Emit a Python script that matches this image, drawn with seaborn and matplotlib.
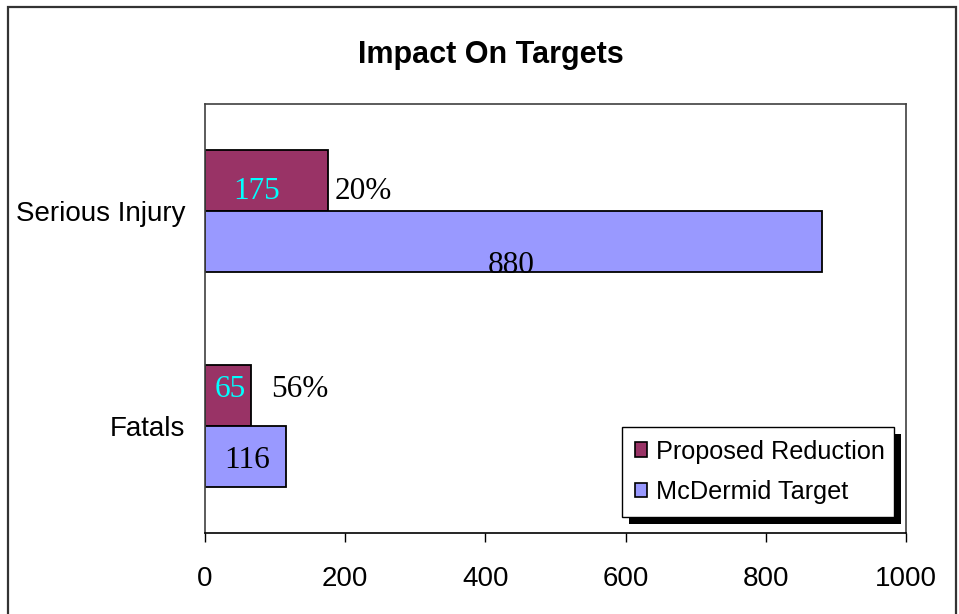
import pandas as pd
import seaborn as sns
import matplotlib.pyplot as plt
from matplotlib.patches import Rectangle
from matplotlib.transforms import IdentityTransform

# data
categories = ['Serious Injury', 'Fatals']
series = ['Proposed Reduction', 'McDermid Target']
reduction = [175, 65]
target = [880, 116]
pct_labels = ['20%', '56%']

colors = ['#993366', '#9999FF']

df = pd.DataFrame({
    'category': categories * 2,
    'series': [series[0]] * 2 + [series[1]] * 2,
    'value': reduction + target,
})

sns.set_style('white')
plt.rcParams['font.family'] = ['Liberation Sans', 'DejaVu Sans']
plt.rcParams['text.color'] = 'black'
plt.rcParams['xtick.color'] = 'black'
plt.rcParams['ytick.color'] = 'black'
plt.rcParams['xtick.labelcolor'] = 'black'
plt.rcParams['ytick.labelcolor'] = 'black'

fig = plt.figure(figsize=(9.59, 6.14), dpi=100)
W, H = 959, 614
ax = fig.add_axes([205 / W, 1 - 533 / H, (906 - 205) / W, (533 - 104) / H])

sns.barplot(data=df, x='value', y='category', hue='series', orient='h',
            order=categories, hue_order=series, palette=colors, saturation=1,
            width=0.57, edgecolor='black', linewidth=1.3, ax=ax)

ax.set_xlim(0, 1000)
ax.set_xticks(range(0, 1001, 200))
ax.set_xlabel('')
ax.set_ylabel('')
ax.tick_params(axis='x', direction='out', length=6.5, width=1, color='black',
               pad=17, labelsize=20, bottom=True, labelcolor='black')
ax.tick_params(axis='y', length=0, pad=14, labelsize=20, labelcolor='black')
for s in ax.spines.values():
    s.set_color('#404040')
    s.set_linewidth(1.2)
ax.spines['bottom'].set_color('black')

# value labels (offsets in points, Excel-like placement)
red_off = [(-7, -13), (1.5, -1.5)]
tgt_off = [(-1.5, -22.5), (0.7, -8.6)]
pct_off = [(5, -13), (15, -1.5)]
serif = ['Liberation Serif', 'DejaVu Serif']

for bar, val, off in zip(ax.containers[0], reduction, red_off):
    cx = bar.get_x() + bar.get_width() / 2
    cy = bar.get_y() + bar.get_height() / 2
    ax.annotate(str(val), (cx, cy), xytext=off, textcoords='offset points',
                ha='center', va='baseline', color='#00FFFF', fontsize=22.5, family=serif)
for bar, txt, off in zip(ax.containers[0], pct_labels, pct_off):
    ex = bar.get_x() + bar.get_width()
    cy = bar.get_y() + bar.get_height() / 2
    ax.annotate(txt, (ex, cy), xytext=off, textcoords='offset points',
                ha='left', va='baseline', color='black', fontsize=22.5, family=serif)
for bar, val, off in zip(ax.containers[1], target, tgt_off):
    cx = bar.get_x() + bar.get_width() / 2
    cy = bar.get_y() + bar.get_height() / 2
    ax.annotate(str(val), (cx, cy), xytext=off, textcoords='offset points',
                ha='center', va='baseline', color='black', fontsize=22.5, family=serif)

leg = ax.legend(loc='upper left',
                bbox_to_anchor=(622 / W, 1 - 517 / H, (894 - 622) / W, 90 / H),
                mode='expand',
                bbox_transform=fig.transFigure, borderaxespad=0, fontsize=18.2,
                frameon=True, fancybox=False, edgecolor='black', framealpha=1,
                handlelength=0.5, handleheight=0.5, handletextpad=0.35,
                borderpad=0.5, labelspacing=0.65)
leg.get_frame().set_linewidth(1)
for t in leg.get_texts():
    t.set_color('black')
for h in leg.legend_handles:
    h.set_edgecolor('black')
    h.set_linewidth(1.2)

fig.text(491 / W, 1 - 55 / H, 'Impact On Targets', ha='center', va='center',
         fontsize=22, fontweight='bold', color='black')

# outer chart border (bottom edge runs off the picture)
fig.patches.append(Rectangle((8 / W, -0.02), (956 - 8) / W, 1 - 7 / H + 0.02,
                             transform=fig.transFigure, fill=False,
                             edgecolor='#333333', linewidth=1.6))

# black drop shadow behind legend
fig.canvas.draw()
bb = leg.get_window_extent()
ax.add_patch(Rectangle((bb.x0 + 7, bb.y0 - 7), bb.width, bb.height,
                       transform=IdentityTransform(), facecolor='black',
                       edgecolor='none', zorder=4.5, clip_on=False))

fig.savefig('out.png', dpi=100)
